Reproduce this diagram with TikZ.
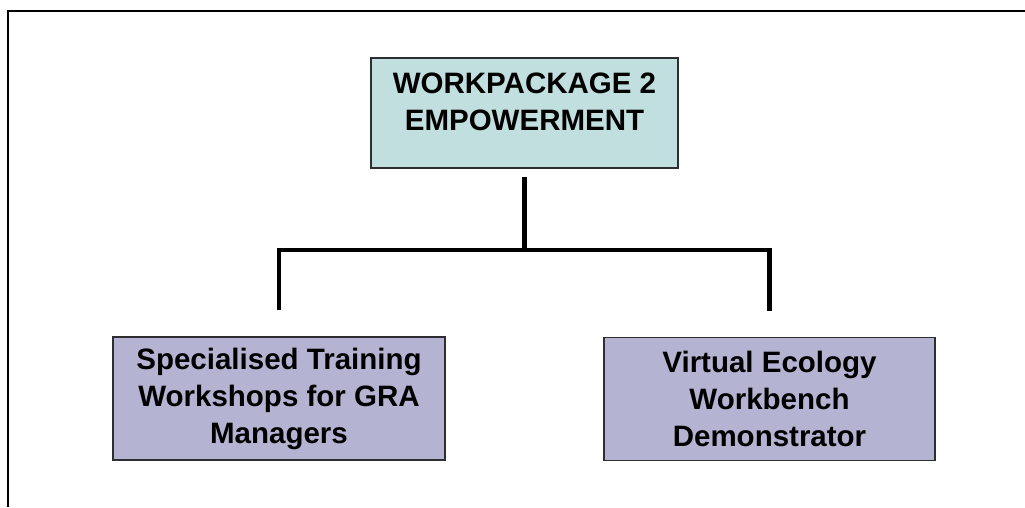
\documentclass[tikz,border=0pt]{standalone}
\usepackage{fontspec}
\setmainfont{Liberation Sans}
\usetikzlibrary{positioning}
\definecolor{wpteal}{RGB}{193,223,223}
\definecolor{wplav}{RGB}{180,180,210}
\definecolor{wpedge}{RGB}{45,45,50}
\tikzstyle{wpbox} = [draw=wpedge, line width=1.5pt, align=center, inner sep=0pt, font=\fontsize{29.5}{37}\selectfont\bfseries]
\tikzstyle{conn} = [line width=4.5pt, line join=miter, black]
\tikzstyle{frame} = [line width=2pt, black]

\begin{document}
\begin{tikzpicture}[x=1pt,y=-1pt]
\useasboundingbox (0,0) rectangle (1025,507);
\draw[frame] (1025,11) -- (8,11) -- (8,507);
\node (wp2) at (524.5,113) [wpbox, fill=wpteal, minimum width=307pt, minimum height=110pt, text depth=22pt] {WORKPACKAGE 2\\EMPOWERMENT};
\node (train) at (279,398.5) [wpbox, fill=wplav, minimum width=332pt, minimum height=123pt] {Specialised Training\\Workshops for GRA\\Managers};
\node (vewb) at (769.5,399) [wpbox, fill=wplav, minimum width=331pt, minimum height=123pt] {Virtual Ecology\\Workbench\\Demonstrator};
\coordinate (hub) at (wp2.south |- 0,250);
\draw[conn, shorten <=8pt] (wp2.south) -- (hub);
\draw[conn, shorten >=26pt] (hub) -| (train.north);
\draw[conn, shorten >=26pt] (hub) -| (vewb.north);
\end{tikzpicture}
\end{document}
